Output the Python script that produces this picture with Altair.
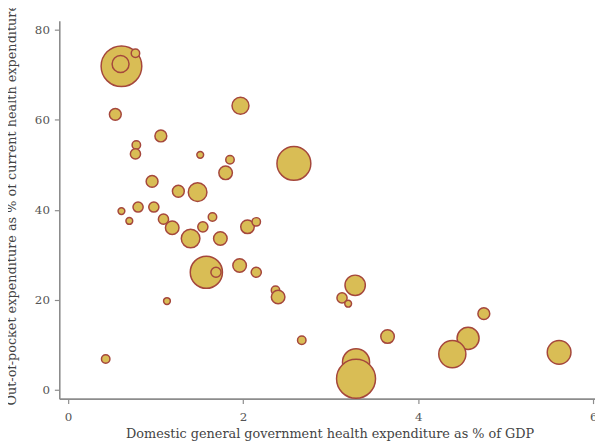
import altair as alt
import pandas as pd

# Domestic general government health expenditure (% of GDP)
gov_exp = [0.61, 0.60, 0.77, 0.54, 1.06, 0.78, 0.77, 1.97, 1.51, 1.85,
           1.80, 2.58, 0.96, 1.26, 1.48, 0.61, 0.80, 0.98, 0.70, 1.09,
           1.19, 1.40, 1.65, 1.54, 1.74, 2.05, 2.15, 1.58, 1.69, 1.96,
           2.15, 1.13, 2.37, 2.40, 3.28, 3.13, 3.20, 2.67, 3.65, 3.29,
           3.29, 4.75, 4.57, 4.39, 5.61, 0.43]
# Out-of-pocket expenditure (% of current health expenditure)
oop = [71.9, 72.4, 74.8, 61.2, 56.4, 54.4, 52.4, 63.1, 52.2, 51.1,
       48.2, 50.3, 46.3, 44.1, 43.9, 39.7, 40.6, 40.6, 37.5, 37.9,
       36.0, 33.6, 38.4, 36.2, 33.6, 36.2, 37.3, 26.1, 26.1, 27.6,
       26.1, 19.7, 22.1, 20.6, 23.2, 20.4, 19.1, 11.0, 11.8, 6.1,
       2.4, 16.9, 11.4, 7.9, 8.3, 6.8]
# Bubble weight (relative population size)
weight = [576, 100, 25, 49, 49, 25, 36, 100, 16, 25,
          64, 400, 49, 49, 121, 16, 36, 36, 16, 36,
          64, 121, 25, 36, 64, 64, 25, 361, 36, 64,
          36, 16, 25, 64, 144, 36, 16, 25, 64, 256,
          529, 49, 169, 256, 196, 25]

x_ticks = [0, 2, 4, 6]
y_ticks = [0, 20, 40, 60, 80]

df = pd.DataFrame({"gov": gov_exp, "oop": oop, "w": weight,
                   "k": list(range(len(gov_exp)))})

W, H = 543, 383
font = "DejaVu Serif"

chart = alt.Chart(df).mark_circle(
    color="#D9BD55", stroke="#A5473C", strokeWidth=1.5, opacity=1
).encode(
    x=alt.X("gov:Q",
            scale=alt.Scale(domain=[-0.1, 6.02], nice=False, zero=False),
            axis=alt.Axis(values=x_ticks, format="d",
                          title="Domestic general government health expenditure as % of GDP",
                          labelPadding=8, titleX=274, titleY=39,
                          titleBaseline="alphabetic", titleAlign="center")),
    y=alt.Y("oop:Q",
            scale=alt.Scale(domain=[-2, 82], nice=False, zero=False),
            axis=alt.Axis(values=y_ticks, format="d",
                          title="Out-of-pocket expenditure as % of current health expenditure",
                          labelPadding=5, titleX=-48, titleY=186,
                          titleAngle=270, titleAlign="center",
                          titleBaseline="middle")),
    size=alt.Size("w:Q", scale=alt.Scale(type="linear", domain=[0, 576],
                                         range=[0, 1700]), legend=None),
    order=alt.Order("k:Q"),
).properties(
    width=W, height=H,
    autosize=alt.AutoSizeParams(type="none"),
    padding={"left": 52, "top": 10, "right": 0, "bottom": 43},
).configure_view(
    stroke=None
).configure_axis(
    grid=False,
    domainColor="#8c8c8c", domainWidth=1.6,
    tickColor="#8c8c8c", tickWidth=1.2, tickSize=5,
    labelFont=font, labelFontSize=12, labelColor="#555555",
    titleFont=font, titleFontSize=13, titleColor="#444444",
    titleFontWeight="normal",
)

chart.save("out.html", embed_options={"renderer": "svg", "actions": False})
